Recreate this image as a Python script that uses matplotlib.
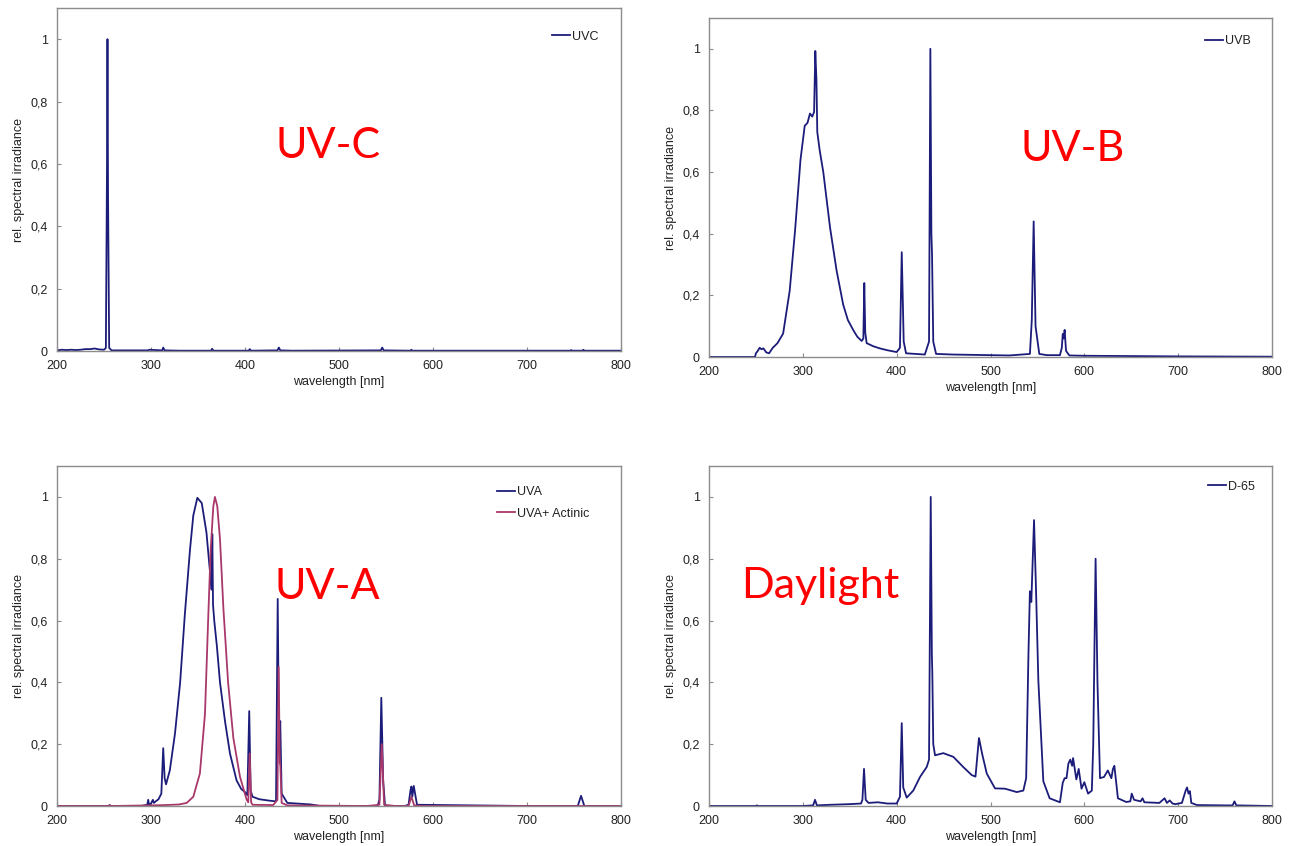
import matplotlib
matplotlib.use("Agg")
import matplotlib.pyplot as plt
from matplotlib.ticker import FuncFormatter

# ---------------- data ----------------
uvc_nm = [200, 205, 210, 215, 220, 225, 230, 235, 240, 245, 250, 252, 253.2, 253.7, 254.3, 255.5, 258, 265, 297, 298, 312, 313, 314.5,
          330, 364, 365, 366.5, 404, 405, 406.5, 434.5, 436, 437.5, 450, 544.5, 546, 547.5, 576, 577, 578, 700, 746, 747, 748,
          759, 760, 761, 800]
uvc_val = [0.002, 0.004, 0.003, 0.004, 0.003, 0.004, 0.006, 0.006, 0.008, 0.005, 0.004, 0.01, 0.6, 1.0, 0.5, 0.01, 0.002, 0.002, 0.002, 0.004, 0.002, 0.011, 0.002,
           0.001, 0.001, 0.007, 0.001, 0.001, 0.006, 0.001, 0.002, 0.011, 0.002, 0.001, 0.002, 0.011, 0.002, 0.001, 0.004, 0.001, 0.001, 0.001, 0.003, 0.001,
           0.001, 0.004, 0.001, 0.001]

uvb_nm = [200, 249, 250, 252, 254, 256, 258, 261, 264, 268, 273, 279, 286, 291.7, 296, 297, 297.5, 302, 305, 307.6, 310, 312, 313.3,
          314.5, 315.4, 318, 321.8, 329, 336, 343, 348, 353.8, 358, 362.7, 364.5, 365.5, 366.5, 368, 375, 382, 390, 400, 403.5, 405.4, 407.5,
          410, 420, 430, 434.5, 435.9, 437, 437.7, 439, 442, 460, 500, 520, 542, 544, 546, 548, 552, 560, 574, 576, 577, 578, 579, 580.5,
          584, 600, 650, 700, 800]
uvb_val = [0.0, 0.0, 0.012, 0.02, 0.03, 0.025, 0.028, 0.015, 0.012, 0.03, 0.045, 0.076, 0.215, 0.41, 0.58, 0.62, 0.64, 0.75, 0.76, 0.79, 0.78, 0.795, 0.993,
           0.9, 0.73, 0.67, 0.6, 0.42, 0.28, 0.17, 0.12, 0.087, 0.066, 0.052, 0.06, 0.24, 0.08, 0.045, 0.035, 0.028, 0.022, 0.016, 0.03, 0.34, 0.05,
           0.012, 0.01, 0.008, 0.05, 1.0, 0.4, 0.33, 0.05, 0.01, 0.008, 0.006, 0.005, 0.01, 0.12, 0.44, 0.1, 0.01, 0.006, 0.006, 0.03, 0.075, 0.06, 0.088, 0.02,
           0.005, 0.004, 0.003, 0.002, 0.001]

uva_nm = [200, 255, 256, 257, 290, 296, 297, 298, 300, 302, 303, 305, 308, 311, 313, 314.5, 316, 320, 325.5, 331, 336, 341.5, 345, 349.3, 354,
          359, 362.8, 364.5, 365.2, 366, 367.4, 370, 373.4, 378.7, 384, 391, 396, 400, 402.5, 404.5, 406, 408, 415, 426.6, 433, 434.8,
          436.2, 437.5, 439, 445, 470, 480, 541, 543, 545, 547, 549, 570, 574, 576, 577, 578, 579.5, 583, 700, 754, 757.5, 761, 800]
uva_val = [0.0, 0.0, 0.003, 0.0, 0.0, 0.004, 0.02, 0.004, 0.008, 0.02, 0.01, 0.015, 0.022, 0.04, 0.187, 0.09, 0.07, 0.115, 0.234, 0.40, 0.62, 0.83, 0.94, 0.997, 0.98,
           0.885, 0.756, 0.70, 0.88, 0.65, 0.596, 0.52, 0.40, 0.275, 0.17, 0.083, 0.055, 0.045, 0.035, 0.307, 0.05, 0.03, 0.022, 0.017, 0.015, 0.67,
           0.18, 0.275, 0.04, 0.01, 0.005, 0.0, 0.0, 0.02, 0.35, 0.08, 0.0, 0.0, 0.004, 0.05, 0.063, 0.03, 0.065, 0.004, 0.0, 0.0, 0.033, 0.0, 0.0]

act_nm = [200, 255, 256, 257, 300, 315, 330, 338, 345, 352, 357.4, 361, 363.5, 366.3, 368, 370.5, 373.4, 377, 382, 387.6, 394.7, 401.8,
          403.5, 405, 406.5, 408, 430, 434.5, 435.8, 437, 437.6, 439, 445, 530, 543, 545.5, 548, 560, 574, 577, 580, 590, 800]
act_val = [0.0, 0.0, 0.003, 0.0, 0.002, 0.003, 0.005, 0.01, 0.03, 0.105, 0.297, 0.62, 0.83, 0.97, 1.0, 0.97, 0.863, 0.64, 0.40, 0.22, 0.094, 0.02,
           0.012, 0.17, 0.012, 0.004, 0.003, 0.02, 0.45, 0.14, 0.13, 0.01, 0.002, 0.0, 0.004, 0.2, 0.004, 0.0, 0.0, 0.03, 0.002, 0.0, 0.0]

d65_nm = [200, 250, 251, 252, 300, 311, 313, 315, 330, 350, 362, 363.5, 365.2, 367, 370, 380, 390, 400, 403.5, 405.4, 407, 410.7, 417.7,
          424.9, 432, 434.5, 436.3, 437.5, 438, 439, 440.9, 449.7, 460.4, 471, 480, 484, 487.7, 491, 496, 504.8, 515.5, 528, 535, 538,
          540.5, 542, 543.5, 546.4, 548.5, 551, 556.3, 563, 574, 577, 579, 581, 583, 585, 587, 588, 591.5, 594, 597, 600, 604, 608,
          609.5, 612, 614, 616.7, 621, 625, 628.8, 630.5, 632, 635.8, 644.6, 649, 650.5, 653, 660, 662, 664, 680, 685.5, 688, 691,
          694, 697, 704, 708, 709.5, 711, 712.5, 714, 720, 750, 758, 760, 762, 800]
d65_val = [0.0, 0.0, 0.002, 0.0, 0.0, 0.002, 0.02, 0.002, 0.004, 0.006, 0.008, 0.02, 0.12, 0.02, 0.01, 0.012, 0.008, 0.008, 0.03, 0.268, 0.06, 0.027, 0.05,
           0.094, 0.126, 0.15, 1.0, 0.49, 0.43, 0.2, 0.164, 0.171, 0.159, 0.126, 0.1, 0.095, 0.22, 0.17, 0.105, 0.057, 0.056, 0.045, 0.05, 0.09,
           0.5, 0.695, 0.66, 0.925, 0.7, 0.405, 0.08, 0.025, 0.012, 0.075, 0.09, 0.09, 0.137, 0.15, 0.13, 0.155, 0.086, 0.12, 0.056, 0.077, 0.04, 0.05,
           0.2, 0.80, 0.4, 0.09, 0.094, 0.115, 0.09, 0.12, 0.13, 0.025, 0.013, 0.015, 0.04, 0.02, 0.015, 0.025, 0.012, 0.01, 0.025, 0.01, 0.018,
           0.008, 0.006, 0.01, 0.05, 0.06, 0.04, 0.048, 0.01, 0.003, 0.002, 0.002, 0.015, 0.002, 0.0]

x_ticks = [200, 300, 400, 500, 600, 700, 800]
y_ticks = [0, 0.2, 0.4, 0.6, 0.8, 1.0]
x_label = "wavelength [nm]"
y_label = "rel. spectral irradiance"

NAVY = "#1c1c7a"
PINK = "#a8386a"
FRAME = "#8c8c8c"
TXT = "#222222"
SMALL = ["Liberation Sans", "DejaVu Sans"]
plt.rcParams["font.family"] = SMALL

fig = plt.figure(figsize=(12.91, 8.46), dpi=100)
W, H = 1291, 846


def make_ax(x0, x1, ytop, ybot):
    return fig.add_axes([x0 / W, 1 - ybot / H, (x1 - x0) / W, (ybot - ytop) / H])


def fmt(v, pos):
    if abs(v - round(v)) < 1e-9:
        return str(int(round(v)))
    return ("%.1f" % v).replace(".", ",")


def style(ax):
    ax.set_xlim(200, 800)
    ax.set_ylim(0, 1.1)
    ax.set_xticks(x_ticks)
    ax.set_yticks(y_ticks)
    ax.yaxis.set_major_formatter(FuncFormatter(fmt))
    for s in ax.spines.values():
        s.set_color(FRAME)
        s.set_linewidth(1.0)
    ax.tick_params(direction="in", length=3, width=0.8, color=FRAME,
                   labelsize=9, labelcolor=TXT, pad=6.5)
    ax.set_xlabel(x_label, fontsize=9, color=TXT, labelpad=3)
    ax.set_ylabel(y_label, fontsize=9, color=TXT, labelpad=4)


BIG = dict(fontsize=31, color="#ff0000", family=["Lato", "DejaVu Sans"], ha="center", va="baseline")

ax1 = make_ax(57, 621, 8, 351)
ax1.plot(uvc_nm, uvc_val, color=NAVY, lw=1.3, label="UVC")
style(ax1)
ax1.text(488, 0.619, "UV-C", **BIG)

ax2 = make_ax(709, 1272, 18, 357)
ax2.plot(uvb_nm, uvb_val, color=NAVY, lw=1.3, label="UVB")
style(ax2)
ax2.text(587, 0.637, "UV-B", **BIG)

ax3 = make_ax(57, 621, 466, 806)
ax3.plot(uva_nm, uva_val, color=NAVY, lw=1.3, label="UVA")
ax3.plot(act_nm, act_val, color=PINK, lw=1.3, label="UVA+ Actinic")
style(ax3)
ax3.text(488, 0.670, "UV-A", **BIG)

ax4 = make_ax(709, 1272, 466, 806)
ax4.plot(d65_nm, d65_val, color=NAVY, lw=1.3, label="D-65")
style(ax4)
ax4.text(319, 0.672, "Daylight", **BIG)

leg_kw = dict(frameon=False, fontsize=9, handlelength=1.45, handletextpad=0.15,
              labelspacing=0.75, borderpad=0, borderaxespad=0, loc="center left")
ax1.legend(bbox_to_anchor=((552 - 57) / 564, (351 - 36.5) / 343), **leg_kw)
ax2.legend(bbox_to_anchor=((1205 - 709) / 563, (357 - 41) / 339), **leg_kw)
ax3.legend(bbox_to_anchor=((497 - 57) / 564, (806 - 503) / 340), **leg_kw)
ax4.legend(bbox_to_anchor=((1208 - 709) / 563, (806 - 486.5) / 340), **leg_kw)
for ax in (ax1, ax2, ax3, ax4):
    for t in ax.get_legend().get_texts():
        t.set_color(TXT)

fig.savefig("out.png", dpi=100)
